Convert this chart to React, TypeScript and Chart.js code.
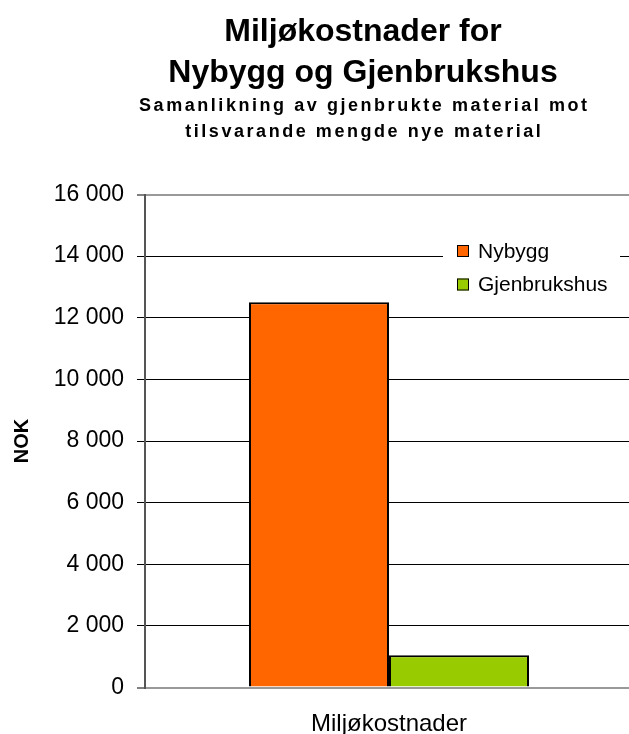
import React, { useEffect, useRef } from "react";
import { Chart, registerables } from "chart.js";

Chart.register(...registerables);

const categories = ["Miljøkostnader"];
const seriesNames = ["Nybygg", "Gjenbrukshus"];
const nybyggValues = [12500];
const gjenbrukValues = [1050];
const seriesColors = ["#FF6600", "#99CC00"];
const titleLines = ["Miljøkostnader for", "Nybygg og Gjenbrukshus"];
const subtitleLines = ["Samanlikning av gjenbrukte material mot", "tilsvarande mengde nye material"];
const yAxisTitle = "NOK";
const yMin = 0;
const yMax = 16000;
const yStep = 2000;

const FONT = "'Liberation Sans', Arial, sans-serif";

const fmt = (v: number) => String(v).replace(/\B(?=(\d{3})+(?!\d))/g, " ");

const headerPlugin = {
  id: "headerText",
  afterDraw(chart: any) {
    const ctx = chart.ctx;
    ctx.save();
    ctx.fillStyle = "#000";
    ctx.textAlign = "center";
    ctx.textBaseline = "alphabetic";
    ctx.font = `bold 32px ${FONT}`;
    const cx = 363;
    ctx.fillText(titleLines[0], cx, 41);
    ctx.fillText(titleLines[1], cx, 81.5);
    ctx.font = `bold 18px ${FONT}`;
    (ctx as any).letterSpacing = "2.55px";
    ctx.fillText(subtitleLines[0], cx + 1.3, 111);
    ctx.fillText(subtitleLines[1], cx + 1.3, 137);
    ctx.restore();
  },
};

const legendPlugin = {
  id: "insideLegend",
  afterDraw(chart: any) {
    const ctx = chart.ctx;
    ctx.save();
    ctx.fillStyle = "#fff";
    ctx.fillRect(443, 237, 177, 64);
    ctx.font = `21px ${FONT}`;
    ctx.textBaseline = "middle";
    ctx.textAlign = "left";
    const rows = [251, 284.5];
    chart.data.datasets.forEach((ds: any, i: number) => {
      const y = rows[i];
      ctx.fillStyle = ds.backgroundColor;
      ctx.fillRect(457, y - 6, 12, 12);
      ctx.strokeStyle = "#000";
      ctx.lineWidth = 1;
      ctx.strokeRect(457.5, y - 5.5, 11, 11);
      ctx.fillStyle = "#000";
      ctx.fillText(ds.label, 478, y + 1);
    });
    ctx.restore();
  },
};

export default function App() {
  const ref = useRef<HTMLCanvasElement | null>(null);
  useEffect(() => {
    if (!ref.current) return;
    const chart = new Chart(ref.current, {
      type: "bar",
      data: {
        labels: categories,
        datasets: [
          {
            label: seriesNames[0],
            data: nybyggValues,
            backgroundColor: seriesColors[0],
            borderColor: "#000",
            borderWidth: 2,
            barPercentage: 1,
            categoryPercentage: 0.5738,
          },
          {
            label: seriesNames[1],
            data: gjenbrukValues,
            backgroundColor: seriesColors[1],
            borderColor: "#000",
            borderWidth: 2,
            barPercentage: 1,
            categoryPercentage: 0.5738,
          },
        ],
      },
      options: {
        responsive: false,
        animation: false,
        layout: { padding: { top: 194.5, right: 7, left: 0, bottom: 0 } },
        plugins: {
          legend: { display: false },
          title: { display: false },
          tooltip: { enabled: false },
        },
        scales: {
          x: {
            grid: { display: false },
            border: { display: true, color: "#999", width: 2 },
            ticks: { color: "#000", font: { family: FONT, size: 24 }, padding: 14.5 },
            afterFit: (s: any) => {
              s.height = 46.5;
            },
          },
          y: {
            min: yMin,
            max: yMax,
            border: { display: true, color: "#555", width: 2 },
            grid: {
              color: (c: any) =>
                c.tick && (c.tick.value === yMin || c.tick.value === yMax) ? "#999" : "#000",
              lineWidth: (c: any) =>
                c.tick && (c.tick.value === yMin || c.tick.value === yMax) ? 2 : 1,
              tickColor: "#000",
              tickWidth: 1,
              tickLength: 8,
            },
            ticks: {
              stepSize: yStep,
              color: "#000",
              padding: 13,
              font: { family: FONT, size: 23 },
              callback: (v: any) => fmt(Number(v)),
            },
            title: {
              display: true,
              text: yAxisTitle,
              color: "#000",
              font: { family: FONT, size: 20, weight: "bold" },
              padding: { top: 10, bottom: 0 },
            },
            afterFit: (s: any) => {
              s.width = 145;
            },
          },
        },
      },
      plugins: [headerPlugin, legendPlugin],
    });
    return () => chart.destroy();
  }, []);
  return (
    <div
      style={{
        position: "fixed",
        left: 0,
        top: 0,
        width: 629,
        height: 734,
        overflow: "hidden",
        background: "#fff",
      }}
    >
      <canvas ref={ref} width={640} height={734} style={{ display: "block" }} />
    </div>
  );
}
